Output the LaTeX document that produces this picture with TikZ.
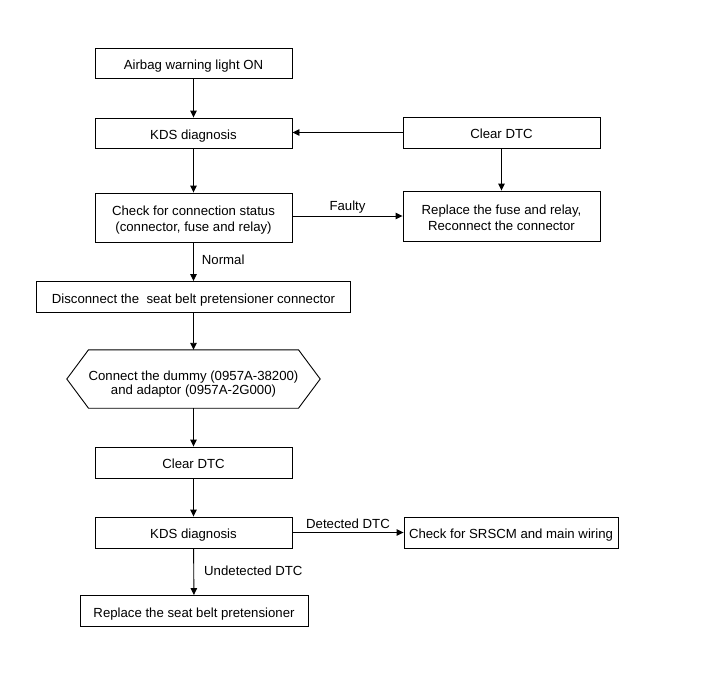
\documentclass[tikz,border=0pt]{standalone}
\usepackage{fontspec}
\setmainfont{Liberation Sans}
\usetikzlibrary{arrows.meta}
\begin{document}
\begin{tikzpicture}[x=1pt,y=-1pt,
  every node/.style={font=\fontsize{13.2}{16}\selectfont, inner sep=0pt, align=center},
  box/.style={draw, line width=0.9pt, minimum height=30pt, text height=12pt, text depth=0pt},
  twoline/.style={text height=28pt, text depth=0pt},
  arr/.style={line width=0.9pt, -{Triangle[length=7pt,width=6.5pt]}},
  lab/.style={font=\fontsize{13.2}{16}\selectfont}]
\useasboundingbox (0,0) rectangle (701,680);
\node[box, minimum width=197pt] (warn) at (193.5,63) {Airbag warning light ON};
\node[box, minimum width=197pt] (kds1) at (193.5,133) {KDS diagnosis};
\node[box, minimum width=197pt, minimum height=31pt] (clrA) at (501.5,132.5) {Clear DTC};
\node[box, twoline, minimum width=197pt, minimum height=49pt] (check) at (193.5,217.5) {Check for connection status\\(connector, fuse and relay)};
\node[box, twoline, minimum width=197pt, minimum height=50pt] (repl) at (501.5,216) {Replace the fuse and relay,\\Reconnect the connector};
\node[box, minimum width=314pt, minimum height=31pt] (disc) at (193.5,297) {Disconnect the\ \ seat belt pretensioner connector};
\node[minimum width=253pt, minimum height=58pt, font=\fontsize{13.2}{14.5}\selectfont, text height=31pt, text depth=0pt] (hex) at (193.5,379) {Connect the dummy (0957A-38200)\\and adaptor (0957A-2G000)};
\draw[line width=0.9pt] (hex.west) -- ([xshift=-105pt]hex.north) -- ([xshift=105pt]hex.north) -- (hex.east) -- ([xshift=105pt]hex.south) -- ([xshift=-105pt]hex.south) -- cycle;
\node[box, minimum width=197pt, minimum height=31pt] (clrB) at (193.5,462.5) {Clear DTC};
\node[box, minimum width=197pt, minimum height=31pt] (kds2) at (193.5,532.5) {KDS diagnosis};
\node[box, minimum width=214pt, minimum height=31pt] (srs) at (511,532.5) {Check for SRSCM and main wiring};
\node[box, minimum width=228pt, minimum height=31pt] (belt) at (194,611) {Replace the seat belt pretensioner};

\draw[arr] (warn) -- (kds1);
\draw[arr] (kds1) -- (check);
\draw[arr] (clrA.west) -- (kds1.east |- clrA.west);
\draw[arr] (clrA) -- (repl);
\draw[arr] (check.east |- repl.west) -- (repl.west) node[lab, midway, above=2.5pt] (faulty) {Faulty};
\draw[arr] (check) -- (disc) node[lab, midway, right=8pt, yshift=2pt] (normal) {Normal};
\draw[arr] (disc) -- (hex);
\draw[arr] (hex) -- (clrB);
\draw[arr] (clrB) -- (kds2);
\draw[arr] (kds2) -- (srs) node[lab, midway, above=3.5pt] (det) {Detected DTC};
\draw[arr] (kds2) -- (belt) node[lab, midway, right=10pt, yshift=1pt] (undet) {Undetected DTC};
\end{tikzpicture}
\end{document}
